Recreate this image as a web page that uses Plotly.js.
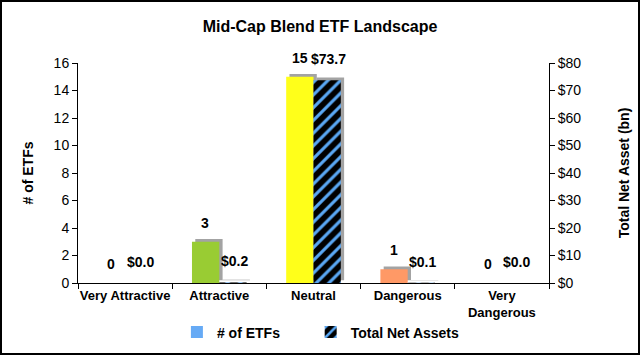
<!DOCTYPE html>
<html>
<head>
<meta charset="utf-8">
<script src="https://cdn.plot.ly/plotly-3.0.1.min.js"></script>
<style>
html,body{margin:0;padding:0;background:#fff;}
#wrap{position:relative;width:640px;height:355px;}
#chart{width:640px;height:355px;}
#frame{position:absolute;left:0;top:0;width:640px;height:355px;box-sizing:border-box;border:2px solid #000;pointer-events:none;}
</style>
</head>
<body>
<div id="wrap"><div id="chart"></div><div id="frame"></div></div>
<script>
const categories = ["Very Attractive", "Attractive", "Neutral", "Dangerous", "Very<br>Dangerous"];
const etfCounts = [0, 3, 15, 1, 0];
const netAssets = [0.0, 0.2, 73.7, 0.1, 0.0];
const etfLabels = ["0", "3", "15", "1", "0"];
const assetLabels = ["$0.0", "$0.2", "$73.7", "$0.1", "$0.0"];
const barColors = ["#66AAF5", "#99CC33", "#FFFF1A", "#FF9966", "#66AAF5"];
const leftTicks = [0, 2, 4, 6, 8, 10, 12, 14, 16];
const rightTicks = [0, 10, 20, 30, 40, 50, 60, 70, 80];
const rightTickText = ["$0", "$10", "$20", "$30", "$40", "$50", "$60", "$70", "$80"];

const bw = 0.29;
const shadowShift = 0.035;
const labelFont = {family: "Liberation Sans, Arial, sans-serif", size: 14, color: "#000", weight: "bold"};

const traces = [
  {type: "bar", x: categories, y: etfCounts, base: 0.2, width: bw, offset: -bw + shadowShift,
   marker: {color: "rgba(140,140,140,0.8)"}, showlegend: false, hoverinfo: "skip", yaxis: "y"},
  {type: "bar", x: categories, y: netAssets, base: 1.0, width: bw, offset: shadowShift,
   marker: {color: "rgba(140,140,140,0.8)"}, showlegend: false, hoverinfo: "skip", yaxis: "y2"},
  {type: "bar", name: "# of ETFs", x: categories, y: etfCounts, width: bw, offset: -bw,
   marker: {color: barColors, line: {width: 0}}, yaxis: "y", legend: "legend"},
  {type: "bar", name: "Total Net Assets", x: categories, y: netAssets, width: bw, offset: 0,
   marker: {color: "#000", line: {width: 0},
            pattern: {shape: "/", bgcolor: "#000", fgcolor: "#5AA8F5", size: 9, solidity: 0.35, fillmode: "replace"}},
   yaxis: "y2", legend: "legend2"}
];

const annotations = [];
categories.forEach((c, i) => {
  annotations.push({x: c, y: etfCounts[i], xref: "x", yref: "y", text: "<b>" + etfLabels[i] + "</b>",
    showarrow: false, yanchor: "bottom", xanchor: "center", xshift: -14, yshift: 9, font: labelFont});
  annotations.push({x: c, y: netAssets[i], xref: "x", yref: "y2", text: "<b>" + assetLabels[i] + "</b>",
    showarrow: false, yanchor: "bottom", xanchor: "center", xshift: 15, yshift: 11, font: labelFont});
});

const legendBase = {orientation: "h", y: -0.225, yanchor: "middle", xanchor: "left",
                    font: {size: 14, weight: "bold"}, itemwidth: 30, bgcolor: "rgba(0,0,0,0)"};

const layout = {
  width: 640, height: 355,
  margin: {l: 78, r: 91, t: 63, b: 72, autoexpand: false},
  paper_bgcolor: "#fff", plot_bgcolor: "#fff",
  barmode: "overlay",
  font: {family: "Liberation Sans, Arial, sans-serif", size: 13, color: "#000"},
  title: {text: "<b>Mid-Cap Blend ETF Landscape</b>", x: 0.5, xanchor: "center", y: 0.925, yanchor: "middle",
          font: {size: 16, color: "#000"}},
  xaxis: {showline: true, linecolor: "#000", linewidth: 1, ticks: "outside", ticklen: 5, tickcolor: "#000",
          tickson: "boundaries", showgrid: false, zeroline: false, automargin: false, tickangle: 0,
          tickfont: {size: 13, weight: "bold"}},
  yaxis: {range: [0, 16], tickvals: leftTicks, showline: true, linecolor: "#000", linewidth: 1,
          ticks: "outside", ticklen: 5, tickcolor: "#000", showgrid: false, zeroline: false, automargin: false,
          tickfont: {size: 14},
          title: {text: "<b># of ETFs</b>", font: {size: 14}, standoff: 16}},
  yaxis2: {range: [0, 80], tickvals: rightTicks, ticktext: rightTickText, overlaying: "y", side: "right",
           showline: true, linecolor: "#000", linewidth: 1, ticks: "outside", ticklen: 5, tickcolor: "#000",
           showgrid: false, zeroline: false, automargin: false, tickfont: {size: 14},
           title: {text: "<b>Total Net Asset (bn)</b>", font: {size: 14}, standoff: 38}},
  annotations: annotations,
  legend: Object.assign({}, legendBase, {x: 0.21}),
  legend2: Object.assign({}, legendBase, {x: 0.494}),
  showlegend: true
};

Plotly.newPlot("chart", traces, layout, {staticPlot: true, displayModeBar: false});
</script>
</body>
</html>
